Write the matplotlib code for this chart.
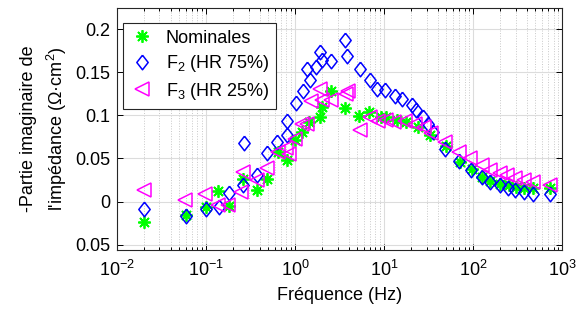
import numpy as np
import matplotlib
matplotlib.use("Agg")
import matplotlib.pyplot as plt
from matplotlib.ticker import LogLocator, FixedLocator

# Données : fréquence (Hz) et -Z'' (Ohm.cm2)
f_nom = [0.02, 0.06, 0.1, 0.137, 0.18, 0.26, 0.37, 0.48, 0.65, 0.82, 1.0, 1.2, 1.45, 1.9, 2.0,
         2.5, 3.65, 5.2, 6.8, 9.3, 10.5, 13.8, 17.8, 24, 33, 50, 72, 96, 125, 156, 200, 250,
         300, 370, 475, 730]
z_nom = [-0.024, -0.015, -0.006, 0.012, -0.005, 0.026, 0.013, 0.026, 0.057, 0.048, 0.071,
         0.081, 0.092, 0.098, 0.110, 0.128, 0.108, 0.099, 0.104, 0.098, 0.098, 0.095, 0.092,
         0.087, 0.077, 0.065, 0.046, 0.038, 0.029, 0.024, 0.021, 0.019, 0.017, 0.016, 0.0155,
         0.0155]

f_f2 = [0.02, 0.06, 0.1, 0.14, 0.18, 0.26, 0.27, 0.37, 0.48, 0.62, 0.82, 0.82, 1.03, 1.22,
        1.37, 1.47, 1.72, 1.91, 2.0, 2.54, 3.65, 3.8, 5.3, 7.0, 8.3, 10.2, 13.3, 16, 20.5, 23,
        27.6, 31, 35.5, 48, 70, 95, 125, 156, 200, 248, 296, 370, 475, 730]
z_f2 = [-0.008, -0.017, -0.009, -0.006, 0.010, 0.019, 0.068, 0.031, 0.056, 0.069, 0.077,
        0.094, 0.114, 0.128, 0.154, 0.141, 0.156, 0.173, 0.164, 0.163, 0.1875, 0.169, 0.154,
        0.141, 0.131, 0.129, 0.123, 0.119, 0.112, 0.106, 0.098, 0.0905, 0.081, 0.061, 0.047,
        0.037, 0.029, 0.023, 0.019, 0.016, 0.013, 0.011, 0.009, 0.009]

f_f3 = [0.02, 0.058, 0.098, 0.137, 0.178, 0.25, 0.262, 0.37, 0.48, 0.65, 0.8, 0.85, 1.0, 1.2,
        1.37, 1.5, 1.9, 2.0, 2.5, 3.7, 3.9, 5.3, 7.0, 8.5, 10.5, 13, 17, 22, 28, 34, 48, 70,
        92, 125, 156, 200, 240, 296, 370, 475, 730]
z_f3 = [0.013, 0.002, 0.0085, -0.004, -0.004, 0.0115, 0.0346, 0.025, 0.0385, 0.058, 0.062,
        0.055, 0.073, 0.090, 0.0905, 0.117, 0.131, 0.118, 0.118, 0.125, 0.128, 0.083, 0.098,
        0.094, 0.095, 0.092, 0.094, 0.090, 0.087, 0.080, 0.069, 0.058, 0.051, 0.042, 0.0366,
        0.033, 0.031, 0.027, 0.025, 0.023, 0.019]

labels = ["Nominales", "F$_2$ (HR 75%)", "F$_3$ (HR 25%)"]
yticks = [-0.05, 0, 0.05, 0.1, 0.15, 0.2]
ytick_labels = ["0.05", "0", "0.05", "0.1", "0.15", "0.2"]

plt.rcParams["font.family"] = ["Liberation Sans", "DejaVu Sans"]
plt.rcParams["mathtext.fontset"] = "custom"
plt.rcParams["mathtext.rm"] = "Liberation Sans"
plt.rcParams["mathtext.it"] = "Liberation Sans:italic"
plt.rcParams["font.size"] = 13

fig = plt.figure(figsize=(5.82, 3.18), dpi=100)
ax = fig.add_axes([0.201, 0.214, 0.765, 0.761])

# losange un peu plus haut que large, comme sous MATLAB
diamond = [(0, 1), (0.78, 0), (0, -1), (-0.78, 0), (0, 1)]

ax.plot(f_nom, z_nom, linestyle="none", marker=(8, 2, 0), markersize=9,
        color="#00ff00", markeredgewidth=1.3, label=labels[0], zorder=3)
ax.plot(f_f2, z_f2, linestyle="none", marker=diamond, markersize=10.5,
        markerfacecolor="none", markeredgecolor="#0000ff", markeredgewidth=1.1,
        label=labels[1], zorder=3)
ax.plot(f_f3, z_f3, linestyle="none", marker="<", markersize=10.5,
        markerfacecolor="none", markeredgecolor="#ff00ff", markeredgewidth=1.1,
        label=labels[2], zorder=3)

ax.set_xscale("log")
ax.set_xlim(1e-2, 1e3)
ax.set_ylim(-0.056, 0.2245)
ax.yaxis.set_major_locator(FixedLocator(yticks))
ax.set_yticklabels(ytick_labels)
ax.xaxis.set_major_locator(LogLocator(base=10, numticks=10))
ax.xaxis.set_minor_locator(LogLocator(base=10, subs=np.arange(2, 10), numticks=20))

# grilles façon MATLAB
ax.grid(which="major", color="#dcdcdc", linewidth=0.8, linestyle="-")
ax.grid(which="minor", axis="x", color="#c8c8c8", linewidth=0.7, linestyle=":")
ax.set_axisbelow(True)

ax.tick_params(which="both", direction="in", top=True, right=True, width=0.7)
ax.tick_params(which="major", length=4)
ax.tick_params(axis="x", which="major", pad=7)
ax.tick_params(axis="y", which="major", pad=5)
ax.tick_params(which="minor", length=2.2)
for s in ax.spines.values():
    s.set_linewidth(0.8)
    s.set_color("#262626")

ax.set_xlabel("Fréquence (Hz)", labelpad=5)
ax.set_ylabel("-Partie imaginaire de\nl'impédance (Ω·cm$^2$)", labelpad=4, linespacing=1.45)

leg = ax.legend(loc="upper left", bbox_to_anchor=(0.0135, 0.938), borderaxespad=0,
                fancybox=False, framealpha=1, edgecolor="#262626", handletextpad=0.6,
                handlelength=1.4, labelspacing=0.36, borderpad=0.38, fontsize=13)
leg.get_frame().set_linewidth(0.8)

plt.savefig("out.png", dpi=100)
plt.close()
